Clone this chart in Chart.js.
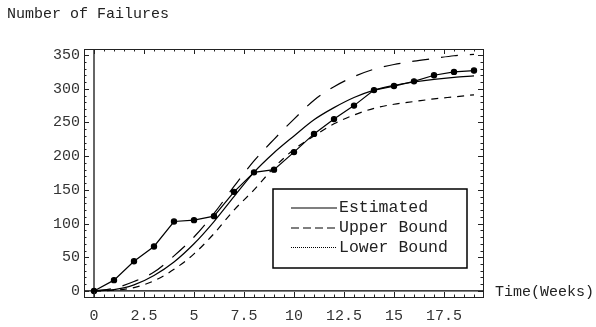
<script src="https://cdn.jsdelivr.net/npm/chart.js@4.4.7/dist/chart.umd.min.js"></script>

<style>
  body { margin: 0; background: #fff; }
  .chart-container { width: 596px; height: 327px; position: relative; }
</style>

<div class="chart-container">
  <canvas id="chart"></canvas>
</div>

<script>
  // values
  const weeks = [0, 1, 2, 3, 4, 5, 6, 7, 8, 9, 10, 11, 12, 13, 14, 15, 16, 17, 18, 19]
  const failures = [0, 16, 44, 66, 103, 105, 111, 147, 176, 180, 206, 233, 255, 275, 298, 304, 311, 320, 325, 327]
  const estimated = [0, 2, 9, 23, 43, 70, 103, 140, 176, 205, 230, 254, 272, 287, 298, 305, 310, 314, 317, 319]
  const upperBound = [0, 4, 14, 28, 52, 80, 115, 155, 193, 225, 255, 283, 303, 318, 329, 336, 341, 345, 349, 351]
  const lowerBound = [0, 1, 5, 15, 32, 55, 85, 120, 150, 183, 210, 230, 248, 261, 271, 277, 281, 285, 288, 291]
  const xTicks = [0, 2.5, 5, 7.5, 10, 12.5, 15, 17.5]
  const yTicks = [0, 50, 100, 150, 200, 250, 300, 350]
  const legendLabels = ['Estimated', 'Upper Bound', 'Lower Bound']

  const FONT = "'Liberation Mono', 'Courier New', monospace"

  function pts(values) {
    return weeks.map((w, i) => ({ x: w, y: values[i] }))
  }

  /*
   * Frame, axes, ticks, legend box and axis texts in the Mathematica style
   */
  const framePlugin = {
    id: 'framePlugin',
    beforeDatasetsDraw(chart) {
      const { ctx, chartArea: a, scales } = chart
      const x0 = scales.x.getPixelForValue(0)
      const y0 = scales.y.getPixelForValue(0)
      ctx.save()
      ctx.strokeStyle = '#666'
      ctx.lineWidth = 2
      ctx.beginPath()
      ctx.moveTo(x0, a.top)
      ctx.lineTo(x0, a.bottom)
      ctx.stroke()
      ctx.strokeStyle = '#000'
      ctx.lineWidth = 1.3
      ctx.beginPath()
      ctx.moveTo(a.left, y0)
      ctx.lineTo(a.right, y0)
      ctx.stroke()
      ctx.restore()
    },
    afterDraw(chart) {
      const { ctx, chartArea: a, scales } = chart
      ctx.save()
      // frame
      ctx.strokeStyle = '#222'
      ctx.lineWidth = 1
      ctx.strokeRect(a.left + 0.5, a.top + 0.5, a.right - a.left, a.bottom - a.top)

      // ticks, pointing inwards
      ctx.beginPath()
      for (let v = 0; v <= 19.01; v += 0.5) {
        const px = Math.round(scales.x.getPixelForValue(v)) + 0.5
        const len = (v % 2.5 === 0) ? 5 : 2.5
        ctx.moveTo(px, a.bottom)
        ctx.lineTo(px, a.bottom - len)
        ctx.moveTo(px, a.top)
        ctx.lineTo(px, a.top + len)
      }
      for (let v = 0; v <= 350; v += 10) {
        const py = Math.round(scales.y.getPixelForValue(v)) + 0.5
        const len = (v % 50 === 0) ? 5 : 2.5
        ctx.moveTo(a.left, py)
        ctx.lineTo(a.left + len, py)
        ctx.moveTo(a.right, py)
        ctx.lineTo(a.right - len, py)
      }
      ctx.stroke()

      // texts
      ctx.fillStyle = '#222'
      ctx.font = '15px ' + FONT
      ctx.textBaseline = 'alphabetic'
      ctx.textAlign = 'left'
      ctx.fillText('Number of Failures', 7, 18)
      ctx.textBaseline = 'middle'
      ctx.fillText('Time(Weeks)', a.right + 12, scales.y.getPixelForValue(0) + 1)

      // legend box
      const bx = 273, by = 189, bw = 194, bh = 79
      ctx.fillStyle = '#fff'
      ctx.fillRect(bx, by, bw, bh)
      ctx.strokeStyle = '#000'
      ctx.lineWidth = 1.5
      ctx.strokeRect(bx, by, bw, bh)
      const dashes = [[], [8, 4], [1, 1]]
      const rows = [208, 228, 247.5]
      ctx.lineWidth = 1.2
      legendLabels.forEach((label, i) => {
        ctx.setLineDash(dashes[i])
        ctx.beginPath()
        ctx.moveTo(291, rows[i])
        ctx.lineTo(337, rows[i])
        ctx.stroke()
        ctx.setLineDash([])
        ctx.fillStyle = '#222'
        ctx.font = '16.5px ' + FONT
        ctx.fillText(label, 339, rows[i])
      })
      ctx.restore()
    }
  }

  const data = {
    datasets: [
      {
        label: 'Data',
        data: pts(failures),
        borderColor: '#000',
        backgroundColor: '#000',
        borderWidth: 1.2,
        pointRadius: 2.6,
        pointHoverRadius: 2.6,
        tension: 0
      },
      {
        label: legendLabels[0],
        data: pts(estimated),
        borderColor: '#000',
        borderWidth: 1.2,
        pointRadius: 0,
        cubicInterpolationMode: 'monotone'
      },
      {
        label: legendLabels[1],
        data: pts(upperBound),
        borderColor: '#000',
        borderWidth: 1.2,
        borderDash: [17, 12],
        pointRadius: 0,
        cubicInterpolationMode: 'monotone'
      },
      {
        label: legendLabels[2],
        data: pts(lowerBound),
        borderColor: '#000',
        borderWidth: 1.2,
        borderDash: [7, 6],
        pointRadius: 0,
        cubicInterpolationMode: 'monotone'
      }
    ]
  }

  const config = {
    type: 'line',
    data: data,
    options: {
      responsive: true,
      maintainAspectRatio: false,
      animation: false,
      layout: { padding: { top: 49, right: 113, left: 0, bottom: 0 } },
      plugins: {
        legend: { display: false },
        tooltip: { enabled: false }
      },
      scales: {
        x: {
          type: 'linear',
          min: -0.5,
          max: 19.45,
          afterBuildTicks: (s) => { s.ticks = xTicks.map((v) => ({ value: v })) },
          afterFit: (s) => { s.height = 30 },
          grid: { display: false, drawTicks: false },
          border: { display: false },
          ticks: {
            padding: 10,
            maxRotation: 0,
            autoSkip: false,
            color: '#333',
            font: { family: FONT, size: 15 }
          }
        },
        y: {
          min: -9,
          max: 359,
          afterBuildTicks: (s) => { s.ticks = yTicks.map((v) => ({ value: v })) },
          afterFit: (s) => { s.width = 84 },
          grid: { display: false, drawTicks: false },
          border: { display: false },
          ticks: {
            padding: 4,
            color: '#333',
            font: { family: FONT, size: 15 }
          }
        }
      }
    },
    plugins: [framePlugin]
  }

  const myChart = new Chart(document.getElementById('chart'), config)
</script>
